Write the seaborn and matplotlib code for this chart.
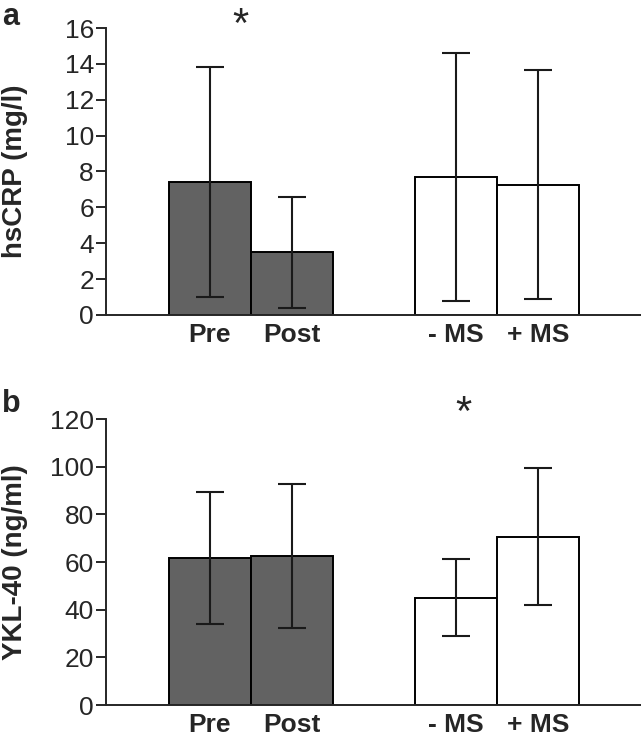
import numpy as np
import pandas as pd
import matplotlib
matplotlib.use("Agg")
import matplotlib.pyplot as plt
import seaborn as sns

# data (mean +/- sd)
labels = ["Pre", "Post", "- MS", "+ MS"]
xpos = [0, 1, 3, 4]
groups = ["train", "train", "ms", "ms"]

crp_mean = [7.43, 3.5, 7.7, 7.27]
crp_sd = [6.4, 3.1, 6.9, 6.37]

ykl_mean = [61.6, 62.7, 45.1, 70.7]
ykl_sd = [27.6, 30.2, 16.3, 28.7]

sns.set_style("ticks")
plt.rcParams["font.family"] = ["Liberation Sans", "DejaVu Sans"]

fig = plt.figure(figsize=(6.41, 7.37), dpi=100)
ax_a = fig.add_axes([0.166, 0.5726, 0.834, 0.3894])
ax_b = fig.add_axes([0.166, 0.0434, 0.834, 0.3880])

colors = {"train": "#626262", "ms": "white"}


def draw_panel(ax, means, sds, ymax, ystep, ylabel):
    df = pd.DataFrame({"x": xpos, "y": means, "sd": sds, "g": groups})
    for g in ["train", "ms"]:
        sub = df[df["g"] == g]
        sns.barplot(data=sub, x="x", y="y", native_scale=True, width=1,
                    color=colors[g], saturation=1, edgecolor="black",
                    linewidth=1.4, ax=ax)
    ax.errorbar(df["x"], df["y"], yerr=df["sd"], fmt="none", ecolor="#1a1a1a",
                elinewidth=1.5, capsize=10, capthick=1.5)
    ax.set_xlim(-1.26, 5.26)
    ax.set_ylim(0, ymax)
    ax.set_yticks(np.arange(0, ymax + 1, ystep))
    ax.set_xticks(xpos)
    ax.set_xticklabels(labels, fontsize=19, fontweight="bold")
    ax.tick_params(axis="x", length=0, pad=6)
    ax.tick_params(axis="y", labelsize=19, length=7, width=1.4, direction="out", pad=2)
    ax.set_ylabel(ylabel, fontsize=20, fontweight="bold")
    ax.yaxis.set_label_coords(-0.147, 0.5)
    ax.set_xlabel("")
    for s in ["top", "right"]:
        ax.spines[s].set_visible(False)
    for s in ["left", "bottom"]:
        ax.spines[s].set_linewidth(1.4)
    ax.spines["bottom"].set_clip_on(False)


draw_panel(ax_a, crp_mean, crp_sd, 16, 2, "hsCRP (mg/l)")
draw_panel(ax_b, ykl_mean, ykl_sd, 120, 20, "YKL-40 (ng/ml)")

ax_a.text(0.37, 16.1, "*", fontsize=30, ha="center", va="center", clip_on=False)
ax_b.text(3.1, 122.0, "*", fontsize=30, ha="center", va="center", clip_on=False)

fig.text(0.003, 0.997, "a", fontsize=22, fontweight="bold", ha="left", va="top")
fig.text(0.003, 0.472, "b", fontsize=22, fontweight="bold", ha="left", va="top")

fig.savefig("out.png", dpi=100)
